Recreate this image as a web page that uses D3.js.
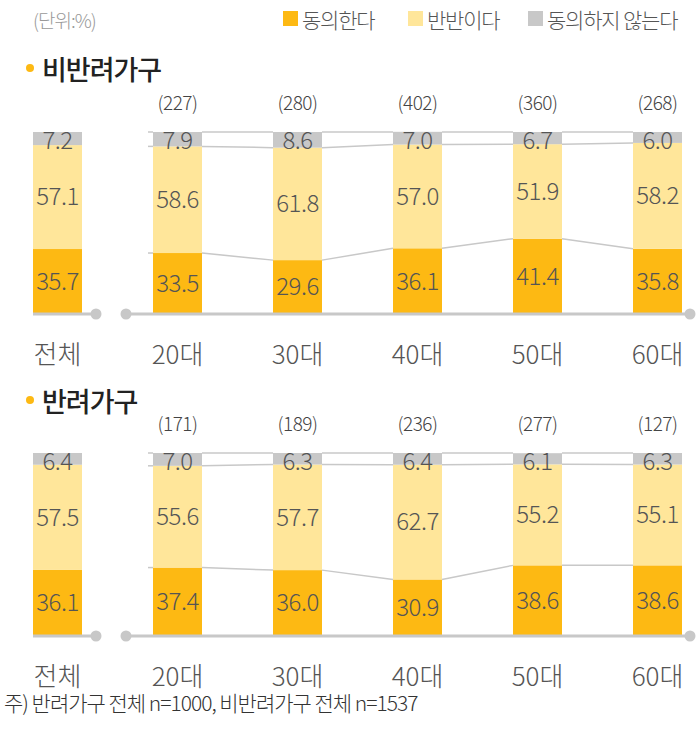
<!DOCTYPE html><html><head><meta charset="utf-8"><script src="https://d3js.org/d3.v7.min.js"></script>
<style>body{margin:0;background:#fff}text{font-family:"Noto Sans CJK KR","Noto Sans",sans-serif}</style></head><body>
<svg id="c" width="699" height="730"></svg>
<script>
const categories=["전체","20대","30대","40대","50대","60대"];
const seriesNames=["동의한다","반반이다","동의하지 않는다"];
const colors=["#FDB913","#FFE69A","#C8C8C8"];
const nonPetN=["","(227)","(280)","(402)","(360)","(268)"];
const nonPetAgree=[35.7,33.5,29.6,36.1,41.4,35.8];
const nonPetHalf=[57.1,58.6,61.8,57.0,51.9,58.2];
const nonPetDis=[7.2,7.9,8.6,7.0,6.7,6.0];
const petN=["","(171)","(189)","(236)","(277)","(127)"];
const petAgree=[36.1,37.4,36.0,30.9,38.6,38.6];
const petHalf=[57.5,55.6,57.7,62.7,55.2,55.1];
const petDis=[6.4,7.0,6.3,6.4,6.1,6.3];

const svg=d3.select("#c");
const x=d3.scaleOrdinal().domain(categories).range([33,153,273,393,513,633]);
const bw=49;
const tc="#555";
svg.append("text").attr("x",33).attr("y",28).attr("font-size",19).attr("fill","#999").attr("font-weight",300).attr("letter-spacing",-1).text("(단위:%)");
const lx=[283,408,528];
seriesNames.forEach((s,i)=>{svg.append("rect").attr("x",lx[i]).attr("y",11).attr("width",15).attr("height",15).attr("fill",colors[i]);
svg.append("text").attr("x",lx[i]+19).attr("y",28).attr("font-size",21).attr("fill",tc).attr("font-weight",300).attr("letter-spacing",-1.2).text(s);});

function panel(title,ty,top,base,N,A,H,D){
  const y=d3.scaleLinear().domain([0,100]).range([base,top]);
  svg.append("circle").attr("cx",30).attr("cy",ty-2).attr("r",4).attr("fill","#FDB913");
  svg.append("text").attr("x",42).attr("y",ty+10).attr("font-size",27).attr("font-weight",500).attr("fill","#222").attr("letter-spacing",-1).text(title);
  const data=categories.map((c,i)=>({c,i,v:[A[i],H[i],D[i]]}));
  for(let i=1;i<categories.length-1;i++){
    const a=data[i],b=data[i+1];
    [a.v[0],a.v[0]+a.v[1],100].forEach((cum,k)=>{
      const cb=k==0?b.v[0]:k==1?b.v[0]+b.v[1]:100;
      svg.append("line").attr("x1",x(a.c)+bw).attr("x2",x(b.c)).attr("y1",y(cum)).attr("y2",y(cb)).attr("stroke","#C8C8C8").attr("stroke-width",1.5);
    });
  }
  [data[1].v[0],data[1].v[0]+data[1].v[1],100].forEach(cum=>svg.append("line").attr("x1",x(categories[1])-5).attr("x2",x(categories[1])).attr("y1",y(cum)).attr("y2",y(cum)).attr("stroke","#C8C8C8").attr("stroke-width",1.5));
  data.forEach(d=>{
    let cum=0;
    d.v.forEach((v,k)=>{
      svg.append("rect").attr("x",x(d.c)).attr("width",bw).attr("y",y(cum+v)).attr("height",y(cum)-y(cum+v)).attr("fill",colors[k]);
      const cy=k==2?y(100)+9:(y(cum)+y(cum+v))/2;
      svg.append("text").attr("x",x(d.c)+bw/2).attr("y",cy).attr("dy","0.35em").attr("text-anchor","middle").attr("font-size",24).attr("font-weight",300).attr("letter-spacing",-0.5).attr("fill",tc).text(v.toFixed(1));
      cum+=v;
    });
    svg.append("text").attr("x",x(d.c)+bw/2).attr("y",base+50).attr("text-anchor","middle").attr("font-size",26).attr("font-weight",300).attr("fill",tc).text(d.c);
    if(N[d.i]) svg.append("text").attr("x",x(d.c)+bw/2).attr("y",top-22).attr("text-anchor","middle").attr("font-size",19).attr("font-weight",300).attr("letter-spacing",-0.5).attr("fill","#444").text(N[d.i]);
  });
  svg.append("line").attr("x1",33).attr("x2",96).attr("y1",base).attr("y2",base).attr("stroke","#C8C8C8").attr("stroke-width",3);
  svg.append("circle").attr("cx",96).attr("cy",base).attr("r",5.5).attr("fill","#C8C8C8");
  svg.append("line").attr("x1",126).attr("x2",690).attr("y1",base).attr("y2",base).attr("stroke","#C8C8C8").attr("stroke-width",3);
  svg.append("circle").attr("cx",126).attr("cy",base).attr("r",5.5).attr("fill","#C8C8C8");
  svg.append("circle").attr("cx",690).attr("cy",base).attr("r",5.5).attr("fill","#C8C8C8");
}
panel("비반려가구",70,132,314,nonPetN,nonPetAgree,nonPetHalf,nonPetDis);
panel("반려가구",402,453,636,petN,petAgree,petHalf,petDis);
svg.append("text").attr("x",4).attr("y",711).attr("font-size",21).attr("font-weight",300).attr("letter-spacing",-1).attr("fill","#333").text("주) 반려가구 전체 n=1000, 비반려가구 전체 n=1537");
</script></body></html>
